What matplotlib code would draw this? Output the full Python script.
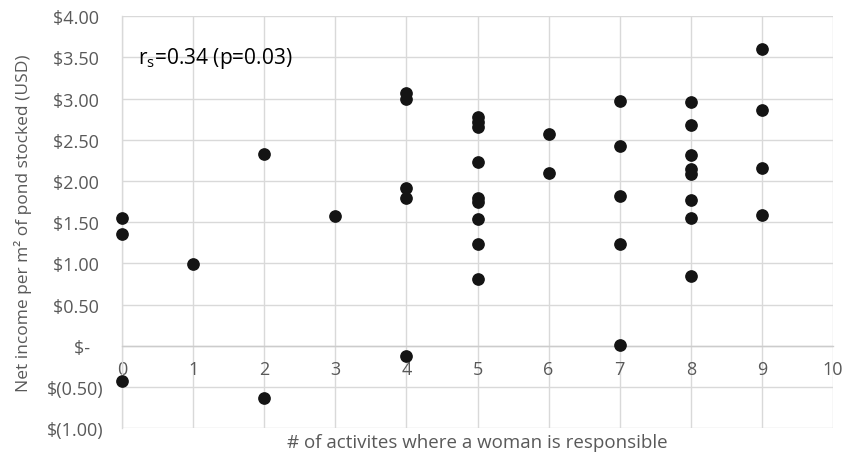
import numpy as np
import matplotlib
matplotlib.use("Agg")
import matplotlib.pyplot as plt
from matplotlib.ticker import FixedLocator, FixedFormatter

plt.rcParams['font.family'] = ['Open Sans', 'DejaVu Sans']

# number of activities where a woman is responsible
activities = [0, 0, 0,
              1,
              2, 2,
              3,
              4, 4, 4, 4, 4,
              5, 5, 5, 5, 5, 5, 5, 5, 5,
              6, 6,
              7, 7, 7, 7, 7,
              8, 8, 8, 8, 8, 8, 8, 8,
              9, 9, 9, 9]
# net income per m2 of pond stocked (USD)
income = [1.55, 1.36, -0.43,
          0.99,
          2.33, -0.63,
          1.57,
          3.07, 2.99, 1.92, 1.79, -0.13,
          2.78, 2.72, 2.66, 2.23, 1.79, 1.75, 1.54, 1.23, 0.81,
          2.57, 2.10,
          2.97, 2.42, 1.82, 1.23, 0.01,
          2.96, 2.68, 2.32, 2.14, 2.09, 1.77, 1.55, 0.85,
          3.60, 2.86, 2.16, 1.59]

x_ticks = list(range(0, 11))
y_ticks = [-1.0, -0.5, 0.0, 0.5, 1.0, 1.5, 2.0, 2.5, 3.0, 3.5, 4.0]
y_labels = ['$(1.00)', '$(0.50)', '$-   ', '$0.50 ', '$1.00 ', '$1.50 ', '$2.00 ',
            '$2.50 ', '$3.00 ', '$3.50 ', '$4.00 ']

grey_text = '#595959'
grid_col = '#d9d9d9'

fig = plt.figure(figsize=(8.54, 4.56), dpi=100)
ax = fig.add_axes([0.1429, 0.0592, 0.8325, 0.9028])

ax.scatter(activities, income, s=66, color='#141414', zorder=3, clip_on=False)

ax.set_xlim(0, 10)
ax.set_ylim(-1, 4)
ax.xaxis.set_major_locator(FixedLocator(x_ticks))
ax.yaxis.set_major_locator(FixedLocator(y_ticks))
ax.yaxis.set_major_formatter(FixedFormatter(y_labels))
ax.grid(True, color=grid_col, linewidth=1.0, zorder=0)
ax.set_axisbelow(True)

for side in ['top', 'right']:
    ax.spines[side].set_visible(False)
ax.spines['left'].set_color(grid_col)
ax.spines['left'].set_linewidth(1.0)
ax.spines['bottom'].set_position(('data', 0))
ax.spines['bottom'].set_color('#cccccc')
ax.spines['bottom'].set_linewidth(1.0)

ax.tick_params(axis='both', length=0, labelsize=13, labelcolor=grey_text)
ax.tick_params(axis='x', pad=10)
ax.tick_params(axis='y', pad=13)

# axis titles placed on the figure
fig.text(0.027, 0.511, 'Net income per m² of pond stocked (USD)', rotation=90,
         ha='center', va='center', fontsize=12.5, color=grey_text)
fig.text(0.559, 0.0285, '# of activites where a woman is responsible',
         ha='center', va='center', fontsize=13.5, color=grey_text)

ax.text(0.22, 3.5, r'r$_\mathregular{s}$=0.34 (p=0.03)', fontsize=15,
        color='black', va='center', ha='left')

fig.savefig('out.png', dpi=100)
